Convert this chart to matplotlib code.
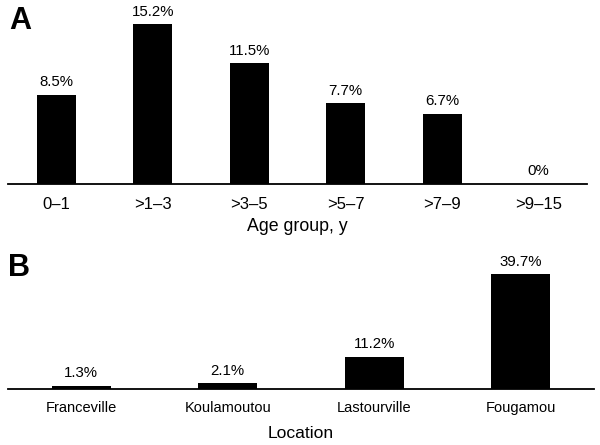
import matplotlib
matplotlib.use("Agg")
import matplotlib.pyplot as plt

plt.rcParams['font.family'] = ['Liberation Sans', 'DejaVu Sans']

age_groups = ["0\u20131", ">1\u20133", ">3\u20135", ">5\u20137", ">7\u20139", ">9\u201315"]
age_values = [8.5, 15.2, 11.5, 7.7, 6.7, 0.0]
age_labels = ["8.5%", "15.2%", "11.5%", "7.7%", "6.7%", "0%"]

locations = ["Franceville", "Koulamoutou", "Lastourville", "Fougamou"]
loc_values = [1.3, 2.1, 11.2, 39.7]
loc_labels = ["1.3%", "2.1%", "11.2%", "39.7%"]

W, H = 600, 445
fig = plt.figure(figsize=(W / 100, H / 100), dpi=100)


def px_axes(left, top, right, bottom):
    return fig.add_axes([left / W, (H - bottom) / H, (right - left) / W, (bottom - top) / H])


def style(ax):
    for s in ["top", "right", "left"]:
        ax.spines[s].set_visible(False)
    ax.spines["bottom"].set_linewidth(1.3)
    ax.set_yticks([])


# Panel A
axA = px_axes(8, 5, 587, 184)
x = range(len(age_groups))
axA.bar(x, age_values, width=0.4, color="black")
axA.set_xlim(-0.5, len(age_groups) - 0.5)
axA.set_ylim(0, 179 / 10.5)
axA.set_xticks(list(x))
axA.set_xticklabels(age_groups)
style(axA)
axA.tick_params(axis="x", length=0, pad=9.5, labelsize=12)
for i, (v, t) in enumerate(zip(age_values, age_labels)):
    axA.annotate(t, (i, v), xytext=(0, 4), textcoords="offset points",
                 ha="center", va="bottom", fontsize=10.8)
axA.set_xlabel("Age group, y", fontsize=12.8, labelpad=4)
fig.text(9 / W, 1 - 29 / H, "A", fontsize=22, fontweight="bold", ha="left", va="baseline")

# Panel B
axB = px_axes(8, 262, 594, 389.3)
xb = range(len(locations))
axB.bar(xb, loc_values, width=0.4, color="black")
axB.set_xlim(-0.5, len(locations) - 0.5)
axB.set_ylim(0, 127.3 / 2.9)
axB.set_xticks(list(xb))
axB.set_xticklabels(locations)
style(axB)
axB.tick_params(axis="x", length=0, labelsize=10.5, pad=8.5)
for i, (v, t) in enumerate(zip(loc_values, loc_labels)):
    axB.annotate(t, (i, v), xytext=(0, 4), textcoords="offset points",
                 ha="center", va="bottom", fontsize=10.8)
axB.set_xlabel("Location", fontsize=12.6, labelpad=8)
fig.text(8 / W, 1 - 276 / H, "B", fontsize=22, fontweight="bold", ha="left", va="baseline")

fig.savefig("out.png", dpi=100)
